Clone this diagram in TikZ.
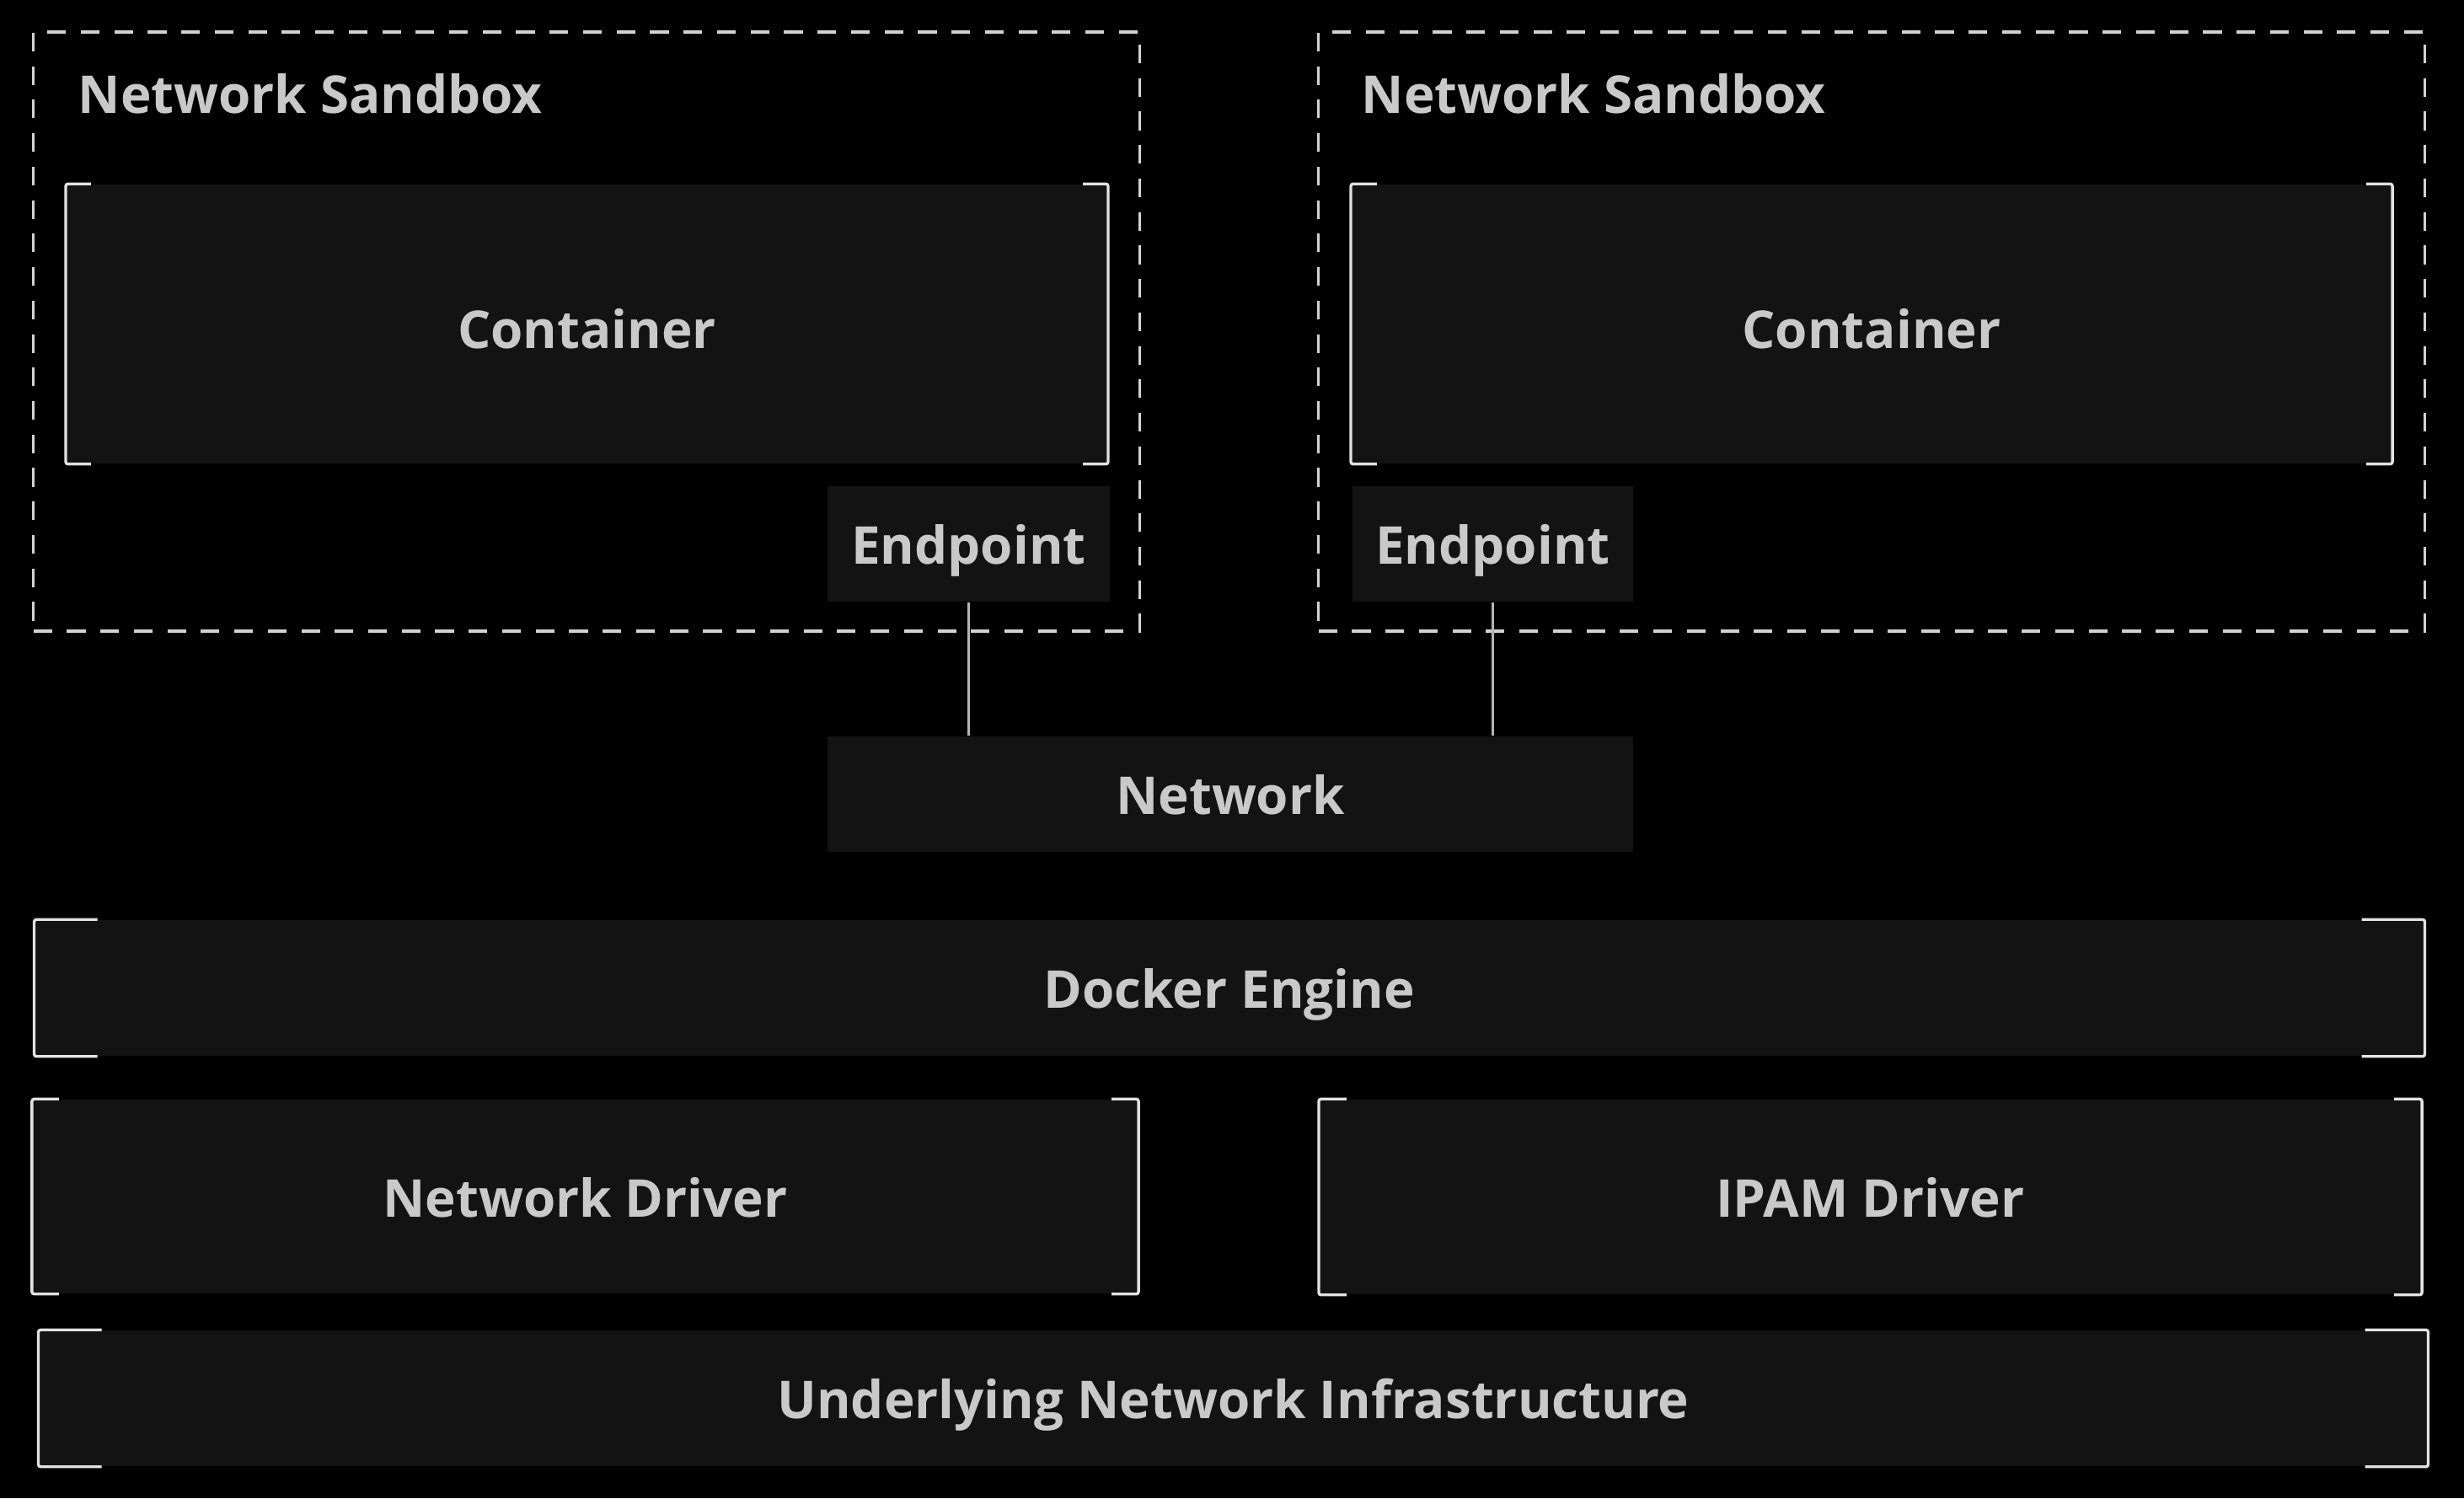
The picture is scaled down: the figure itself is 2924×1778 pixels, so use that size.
\documentclass[tikz,border=0pt]{standalone}
\usepackage{fontspec}
\setmainfont{Open Sans}
\definecolor{bg}{HTML}{000000}
\definecolor{boxfill}{HTML}{131313}
\definecolor{txt}{HTML}{C9C9C9}
\definecolor{brk}{HTML}{E2E2E2}
\definecolor{dsh}{HTML}{D2D2D2}
\definecolor{conn}{HTML}{B4B4B4}
\tikzset{
  lbl/.style={font=\fontsize{17.6}{20}\selectfont\bfseries, text=txt},
  blk/.style={fill=boxfill, draw=none, inner sep=0pt, lbl, text height=13.9pt, text depth=0pt},
  sandbox/.style={draw=dsh, line width=1pt, dash pattern=on 6.3pt off 5pt, fill=none, inner sep=0pt},
  bracket/.style={draw=brk, line width=0.95pt, rounded corners=0.8pt},
  wire/.style={draw=conn, line width=0.6pt}
}
\begin{document}
\begin{tikzpicture}[x=0.01cm, y=-0.01cm]
\fill[bg] (0,0) rectangle (2924,1778);
\useasboundingbox (0,0) rectangle (2924,1778);

% sandboxes
\node[sandbox, minimum width=13.12cm, minimum height=7.11cm] (sbL) at (696,393.5) {};
\node[sandbox, minimum width=13.12cm, minimum height=7.11cm] (sbR) at (2221,393.5) {};
\node[lbl, anchor=base west, inner sep=0pt] (tL) at (92,134) {Network Sandbox};
\node[lbl, anchor=base west, inner sep=0pt] (tR) at (1615,134) {Network Sandbox};

% containers
\node[blk, text height=16.3pt, minimum width=12.35cm, minimum height=3.31cm] (contL) at (696.5,384.5) {Container};
\node[blk, text height=16.3pt, minimum width=12.34cm, minimum height=3.31cm] (contR) at (2221,384.5) {Container};

% endpoints and network
\node[blk, minimum width=3.35cm, minimum height=1.37cm] (epL) at (1149.5,645.5) {Endpoint};
\node[blk, minimum width=3.33cm, minimum height=1.37cm] (epR) at (1771.5,645.5) {Endpoint};
\node[blk, minimum width=9.56cm, minimum height=1.37cm] (net) at (1460,942.5) {Network};

% lower layers
\node[blk, minimum width=28.34cm, minimum height=1.61cm] (dock) at (1459,1172.5) {Docker Engine};
\node[blk, minimum width=13.11cm, minimum height=2.30cm] (nd) at (694.5,1420) {Network Driver};
\node[blk, minimum width=13.07cm, minimum height=2.31cm] (ipam) at (2219.5,1420.5) {IPAM Driver};
\node[blk, minimum width=28.33cm, minimum height=1.61cm] (und) at (1463.5,1659.5) {Underlying Network Infrastructure};

% connectors
\draw[wire] (epL.south) -- (epL.south |- net.north);
\draw[wire] (epR.south) -- (epR.south |- net.north);

% brackets
\foreach \n/\t in {contL/0.30cm, contR/0.31cm, dock/0.75cm, nd/0.32cm, ipam/0.33cm, und/0.75cm}{
  \draw[bracket] ([xshift=\t]\n.north west) -- (\n.north west) -- (\n.south west) -- ([xshift=\t]\n.south west);
  \draw[bracket] ([xshift=-\t]\n.north east) -- (\n.north east) -- (\n.south east) -- ([xshift=-\t]\n.south east);
}
\end{tikzpicture}
\end{document}
